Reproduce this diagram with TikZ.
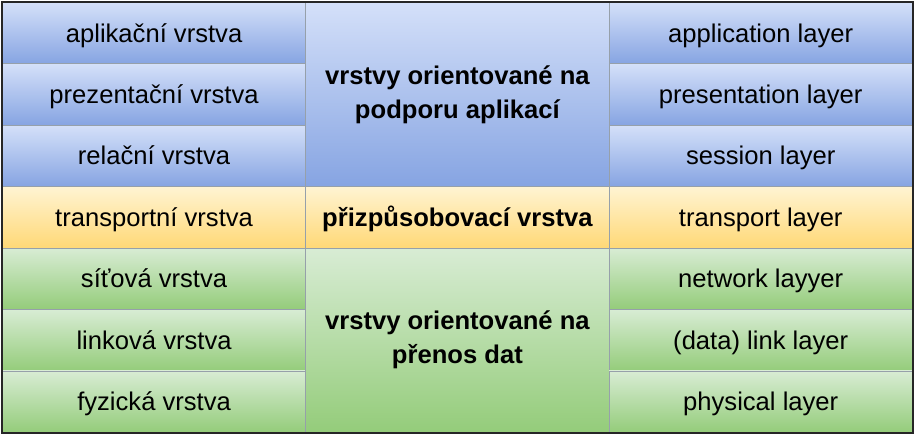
\documentclass[tikz,border=0pt]{standalone}
\usepackage{fontspec}
\setmainfont{Liberation Sans}
\usepackage{tikz}
\usetikzlibrary{positioning}
\definecolor{bluetop}{RGB}{212, 224, 249}
\definecolor{bluebot}{RGB}{134, 164, 226}
\definecolor{yellowtop}{RGB}{255, 244, 210}
\definecolor{yellowbot}{RGB}{255, 216, 118}
\definecolor{greentop}{RGB}{216, 236, 212}
\definecolor{greenbot}{RGB}{148, 204, 122}
\definecolor{cellline}{RGB}{150, 160, 170}

\tikzset{
  cell/.style={draw=cellline, line width=0.6pt, anchor=north west, inner sep=0pt,
               minimum width=227.5pt, minimum height=46.07pt,
               text height=17pt, text depth=3.5pt,
               font=\fontsize{19.2}{22}\selectfont},
  bigcell/.style={draw=cellline, line width=0.6pt, anchor=north west, inner sep=0pt,
               minimum width=227.5pt, minimum height=138.21pt, align=center,
               font=\fontsize{19.2}{25.5}\selectfont\bfseries},
  bluecell/.style={top color=bluetop, bottom color=bluebot},
  yellowcell/.style={top color=yellowtop, bottom color=yellowbot},
  greencell/.style={top color=greentop, bottom color=greenbot}
}

\begin{document}
\begin{tikzpicture}[x=1pt, y=-1pt]
        \useasboundingbox (0,0) rectangle (685.5,325.5);
        % left column
        \node[cell, bluecell]   (app)   at (  1.5,   1.50) {aplikační vrstva};
        \node[cell, bluecell]   (pres)  at (  1.5,  47.57) {prezentační vrstva};
        \node[cell, bluecell]   (sess)  at (  1.5,  93.64) {relační vrstva};
        \node[cell, yellowcell] (trans) at (  1.5, 139.71) {transportní vrstva};
        \node[cell, greencell]  (net)   at (  1.5, 185.79) {síťová vrstva};
        \node[cell, greencell]  (link)  at (  1.5, 231.86) {linková vrstva};
        \node[cell, greencell]  (phys)  at (  1.5, 277.93) {fyzická vrstva};
        % middle column
        \node[bigcell, bluecell]       (upper) at (229.0,   1.50) {vrstvy orientované na\\podporu aplikací};
        \node[cell, yellowcell, font=\fontsize{19.2}{22}\selectfont\bfseries]
                                       (adapt) at (229.0, 139.71) {přizpůsobovací vrstva};
        \node[bigcell, greencell]      (lower) at (229.0, 185.79) {vrstvy orientované na\\přenos dat};
        % right column
        \node[cell, bluecell]   (appE)   at (456.5,   1.50) {application layer};
        \node[cell, bluecell]   (presE)  at (456.5,  47.57) {presentation layer};
        \node[cell, bluecell]   (sessE)  at (456.5,  93.64) {session layer};
        \node[cell, yellowcell] (transE) at (456.5, 139.71) {transport layer};
        \node[cell, greencell]  (netE)   at (456.5, 185.79) {network layyer};
        \node[cell, greencell]  (linkE)  at (456.5, 231.86) {(data) link layer};
        \node[cell, greencell]  (physE)  at (456.5, 277.93) {physical layer};
        % frame
        \draw[line width=1.5pt, color=black!85] (app.north west) rectangle (physE.south east);
\end{tikzpicture}
\end{document}
